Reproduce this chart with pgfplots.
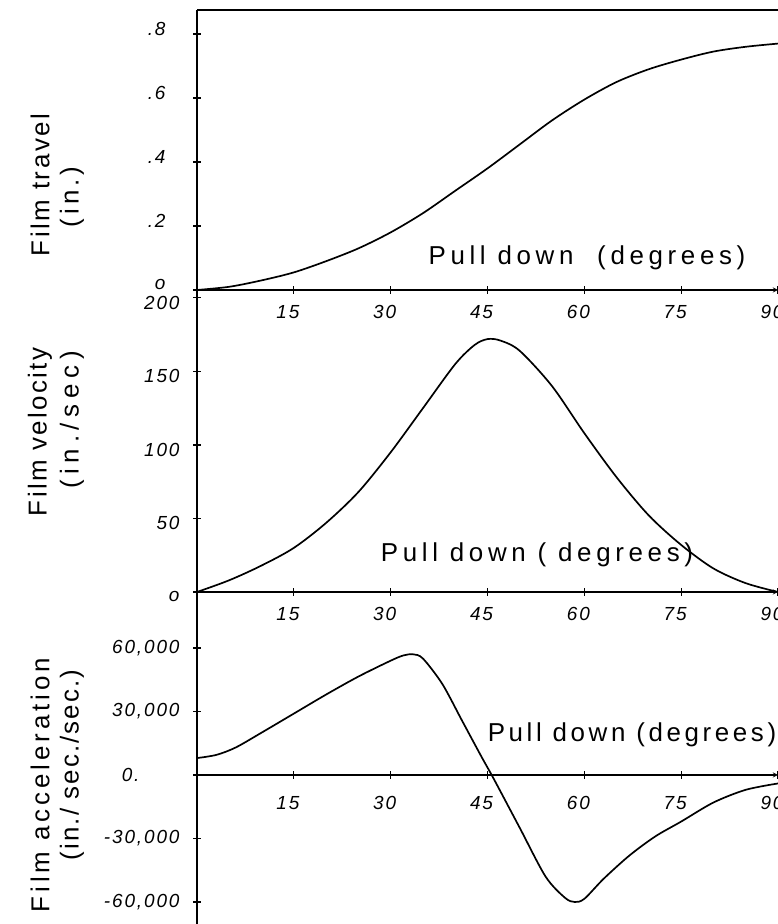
\documentclass[border=0pt]{standalone}
\usepackage{pgfplots}
\pgfplotsset{compat=1.18}
\usepackage{fontspec}
\setmainfont{Liberation Sans}
\newcommand\ls[2]{{\addfontfeature{LetterSpace=#1}#2}}
\pgfplotsset{
  panel/.style={
    scale only axis, width=581bp, xmin=0, xmax=90,
    axis y line=left,
    axis line style={-, line width=1.3pt},
    xtick={15,30,45,60,75,90},
    xticklabels={15,30,45,60,75,90},
    tick align=center,
    major tick length=8bp,
    every tick/.style={black, line width=1.1pt},
    scaled y ticks=false,
    tick label style={font=\fontsize{19}{19}\selectfont\itshape\addfontfeature{LetterSpace=10}},
    /pgf/number format/assume math mode=true,
    xticklabel style={yshift=-8bp, xshift=-6bp},
    yticklabel style={xshift=-10bp},
    clip=false,
  },
  curve/.style={black, line width=1.7pt, smooth, no markers},
}
\begin{document}
\begin{tikzpicture}[x=1bp,y=1bp]
\useasboundingbox (0,0) rectangle (778,924);
% ---------- Film travel ----------
\begin{axis}[panel, axis x line=bottom, at={(197bp,634bp)}, anchor=south west, height=280bp,
  ymin=0, ymax=0.875, ytick={0,0.2,0.4,0.6,0.8}, yticklabels={o,.2,.4,.6,.8},
  yticklabel style={xshift=-14bp, yshift=5bp}]
\addplot[curve] coordinates {
(0,0) (5,0.01) (10,0.03) (15,0.055) (20,0.09) (25,0.13) (30,0.18) (35,0.24)
(40,0.31) (45,0.38) (50,0.455) (55,0.53) (60,0.595) (65,0.65) (70,0.69)
(75,0.72) (80,0.745) (85,0.76) (90,0.77)};
\draw[line width=1.3pt] (rel axis cs:0,1) -- (rel axis cs:1,1);
\end{axis}
% ---------- Film velocity ----------
\begin{axis}[panel, axis x line=bottom, at={(197bp,332bp)}, anchor=south west, height=302bp,
  ymin=0, ymax=205.4, ytick={0,50,100,150,200}, yticklabels={o,50,100,150,200},
  yticklabel style={yshift=-5bp}]
\addplot[curve] coordinates {
(0,0) (5,8) (10,18) (15,30) (20,47) (25,68) (30,95) (35,125) (40,155)
(43,168) (45,172) (47,171) (50,164) (55,140) (60,108) (65,78) (70,52)
(75,32) (80,16) (85,6) (90,0)};
\end{axis}
% ---------- Film acceleration ----------
\begin{axis}[panel, axis x line=middle, at={(197bp,0bp)}, anchor=south west, height=332bp,
  ymin=-70390, ymax=86450, ytick={-60000,-30000,0,30000,60000},
  yticklabels={{-60,000},{-30,000},{0.\rule{40bp}{0pt}},{30,000},{60,000}},
  xticklabel style={yshift=-6bp}]
\addplot[curve] coordinates {
(0,8000) (3,9500) (6,13000) (10,20000) (15,29000) (20,38000) (25,46500) (30,54000)
(32,56500) (33.5,57000) (35,55000) (38,43000) (41,26000) (44,9000) (46,-2000) (50,-25000)
(54,-48000) (57,-58000) (58.5,-60000) (60,-58500) (63,-49000) (67,-38000)
(71,-29000) (75,-22000) (80,-13000) (85,-7000) (90,-4000)};
\end{axis}
% ---------- labels ----------
\begin{scope}[every node/.style={font=\fontsize{26}{26}\selectfont}]
\node[rotate=90] at (40,739) {\ls{10}{Film travel}};
\node[rotate=90] at (72,727) {\ls{15}{(in.)}};
\node[rotate=90] at (40,492) {\ls{9}{Film velocity}};
\node[rotate=90] at (72,504) {\ls{22}{(in./sec)}};
\node[rotate=90] at (40,139) {\ls{15}{Film acceleration}};
\node[rotate=90] at (72,159) {\ls{8}{(in./ sec./sec.)}};
\node at (587,666) {\ls{18}{Pull down \ (degrees)}};
\node at (537,369) {\ls{18}{Pull down ( degrees)}};
\node at (632,189) {\ls{14}{Pull down (degrees)}};
\end{scope}
\end{tikzpicture}
\end{document}
